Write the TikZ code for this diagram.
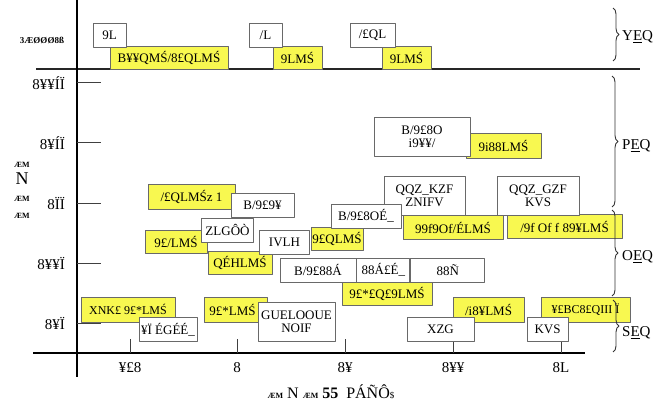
\documentclass[tikz,border=0pt]{standalone}
\usepackage{fontspec}
\setmainfont{Liberation Serif}
\usetikzlibrary{decorations.pathreplacing}
\definecolor{boxyellow}{RGB}{248,248,80}
\definecolor{boxedge}{RGB}{105,105,105}
\newcommand{\tinyglyph}{\fontsize{8}{9}\selectfont\bfseries}
\tikzset{
  wbox/.style={draw=boxedge, fill=white, line width=0.9pt, inner sep=1pt,
    minimum height=24pt, align=center, font=\fontsize{13}{14}\selectfont},
  ybox/.style={wbox, fill=boxyellow, minimum height=23pt},
  twoline/.style={minimum height=39pt, font=\fontsize{13}{13}\selectfont},
  bracefig/.style={decorate, decoration={brace, amplitude=6pt}, line width=0.9pt, draw=black!80},
  ticktext/.style={font=\fontsize{15}{16}\selectfont, inner sep=1pt},
  tinytext/.style={font=\tinyglyph, inner sep=0pt},
}

\begin{document}
\begin{tikzpicture}[x=1pt, y=-1pt, line join=round]
      \useasboundingbox (0,0) rectangle (655,414);
      \def\ax{77}
      \def\ay{353}

      \coordinate (O) at (\ax,\ay);
      \coordinate (T) at (\ax,0);
      \coordinate (B) at (\ax,377);
      \coordinate (XL) at (33,\ay);
      \coordinate (XR) at (585,\ay);
      \coordinate (SL) at (36,69);
      \coordinate (SR) at (640,69);

      % Axes and separating line
      \draw[line width=1.2pt, black!85] (SL) -- (SR);
      \draw[line width=2.6pt] (XL) -- (XR);
      \draw[line width=2.6pt] (T) -- (B);

      % y ticks
      \foreach \yy/\lab in {83/8¥¥ÍÏ, 143/8¥ÍÏ, 203/8ÏÏ, 263/8¥¥Ï, 323/8¥Ï}{
        \draw[line width=1pt, black!75] (\ax,\yy) -- (101,\yy);
        \node[ticktext, anchor=east] at (66,\yy) {\lab};
      }
      % x ticks
      \foreach \xx/\lab in {130/¥£8, 237/8, 345/8¥, 453/8¥¥, 561/8L}{
        \draw[line width=1pt, black!75] (\xx,339) -- (\xx,\ay);
        \node[ticktext] at (\xx,368) {\lab};
      }

      % Axis titles
      \node[inner sep=0pt, align=center, font=\fontsize{18}{17}\selectfont] (ytitle) at (22,190)
        {{\tinyglyph ÆM}\\N\\{\tinyglyph ÆM}\\{\tinyglyph ÆM}};
      \node[inner sep=0pt, font=\fontsize{16}{16}\selectfont] (xtitle) at (331,392)
        {{\tinyglyph ÆM} N {\tinyglyph ÆM} \textbf{55}\ \ PÁÑÔ{\small\$}};
      \node[tinytext, font=\fontsize{9}{9}\selectfont\bfseries] (tlab) at (42,40) {3ÆØØØ8ß};

      % Yellow boxes (top band)
      \node[ybox, minimum width=118pt] (ytopa) at (169,57.5) {B¥¥QMŚ/8£QLMŚ};
      \node[ybox, minimum width=49pt] (ytopb) at (297.5,57.5) {9LMŚ};
      \node[ybox, minimum width=49pt] (ytopc) at (406.5,57.5) {9LMŚ};
      % Yellow boxes (middle band)
      \node[ybox, minimum width=75pt, minimum height=25pt] (ymida) at (503.5,146) {9i88LMŚ};
      \node[ybox, minimum width=87pt, minimum height=25pt] (ymidb) at (191.5,197) {/£QLMŚz 1};
      \node[ybox, minimum width=62pt] (ymidc) at (176,242) {9£/LMŚ};
      \node[ybox, minimum width=64pt] (ymidd) at (240,262.5) {QÉHLMŚ};
      \node[ybox, minimum width=52pt] (ymide) at (337,239) {9£QLMŚ};
      \node[ybox, minimum width=100pt, minimum height=24pt] (ymidf) at (453,227.5) {99f9Of/ÉLMŚ};
      \node[ybox, minimum width=115pt, minimum height=24pt] (ymidg) at (564.5,226.5) {/9f Of f 89¥LMŚ};
      \node[ybox, minimum width=90pt] (ymidh) at (387,293.5) {9£*£Q£9LMŚ};
      % Yellow boxes (bottom band)
      \node[ybox, minimum width=94pt, minimum height=25pt, font=\fontsize{12}{13}\selectfont] (ybota) at (128,309.5) {XNK£ 9£*LMŚ};
      \node[ybox, minimum width=63pt, minimum height=25pt] (ybotb) at (235.5,309.5) {9£*LMŚ\hspace{6pt}};
      \node[ybox, minimum width=71pt, minimum height=25pt] (ybotc) at (488.5,309.5) {/i8¥LMŚ};
      \node[ybox, minimum width=89pt, minimum height=25pt, font=\fontsize{12}{13}\selectfont] (ybotd) at (585.5,309.5) {¥£BC8£QIII Ï};

      % White boxes
      \node[wbox, minimum width=33pt] (wtopa) at (109.5,35) {9L};
      \node[wbox, minimum width=33pt] (wtopb) at (265.5,35) {/L};
      \node[wbox, minimum width=45pt] (wtopc) at (372.5,35) {/£QL};
      \node[wbox, twoline, minimum width=96pt] (wmida) at (422,136.5) {B/9£8O\\ i9¥¥/};
      \node[wbox, twoline, minimum width=81pt] (wmidb) at (424.5,195.5) {QQZ\_KZF\\ZNIFV};
      \node[wbox, twoline, minimum width=82pt] (wmidc) at (538,195.5) {QQZ\_GZF\\KVS};
      \node[wbox, minimum width=63pt] (wmidd) at (262.5,205) {B/9£9¥};
      \node[wbox, minimum width=52pt] (wmide) at (227.5,230) {ZLGÔÒ};
      \node[wbox, minimum width=50pt] (wmidf) at (284.5,242) {IVLH};
      \node[wbox, minimum width=70pt] (wmidg) at (366,216) {B/9£8OÉ\_};
      \node[wbox, minimum width=76pt] (wrowa) at (318,270) {B/9£88Á};
      \node[wbox, minimum width=53pt, anchor=west] (wrowb) at (wrowa.east) {88Á£É\_};
      \node[wbox, minimum width=74pt, anchor=west] (wrowc) at (wrowb.east) {88Ñ};
      \node[wbox, minimum width=58pt] (wbota) at (168,329.5) {¥Ï ÉGÉÉ\_};
      \node[wbox, twoline, minimum width=77pt] (wbotb) at (296.5,321.5) {GUELOOUE\\NOIF};
      \node[wbox, minimum width=67pt] (wbotc) at (440.5,329.5) {XZG};
      \node[wbox, minimum width=41pt] (wbotd) at (547.5,329.5) {KVS};

      % Braces on the right
      \draw[bracefig] (613,8) -- (613,61);
      \draw[bracefig] (612,76) -- (612,207);
      \draw[bracefig] (612,210) -- (612,296);
      \draw[bracefig] (613,300) -- (613,352);
      \node[ticktext, anchor=west] (lba) at (621,37) {Y\underline{E}Q};
      \node[ticktext, anchor=west] (lbb) at (621,146) {P\underline{E}Q};
      \node[ticktext, anchor=west] (lbc) at (621,257) {O\underline{E}Q};
      \node[ticktext, anchor=west] (lbd) at (621,333) {S\underline{E}Q};
\end{tikzpicture}
\end{document}
